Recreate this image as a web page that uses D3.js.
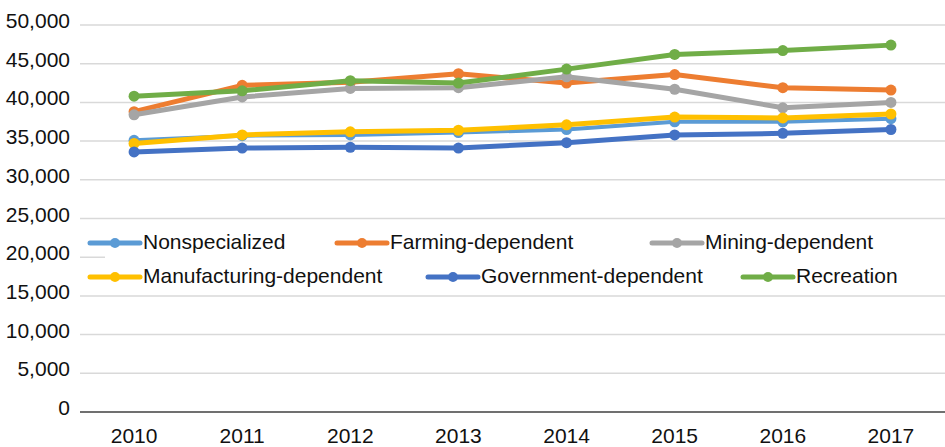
<!DOCTYPE html>
<html lang="en">
<head>
<meta charset="utf-8">
<title>Line chart</title>
<script src="https://cdn.jsdelivr.net/npm/d3@7"></script>
<style>
  body { margin: 0; background: #fff; }
  text { font-family: "Liberation Sans", Arial, Helvetica, sans-serif; fill: #111; }
</style>
</head>
<body>
<svg id="chart" width="945" height="447"></svg>
<script>
// data
var years = ["2010", "2011", "2012", "2013", "2014", "2015", "2016", "2017"];
var seriesNames = ["Nonspecialized", "Farming-dependent", "Mining-dependent",
  "Manufacturing-dependent", "Government-dependent", "Recreation"];
var nonspecialized = [35100, 35700, 35800, 36100, 36500, 37500, 37500, 37900];
var farming        = [38800, 42200, 42600, 43700, 42500, 43600, 41900, 41600];
var mining         = [38400, 40700, 41800, 41900, 43300, 41700, 39300, 40000];
var manufacturing  = [34700, 35800, 36200, 36400, 37100, 38100, 38000, 38500];
var government     = [33600, 34100, 34200, 34100, 34800, 35800, 36000, 36500];
var recreation     = [40800, 41500, 42800, 42500, 44300, 46200, 46700, 47400];
var yTicks = [0, 5000, 10000, 15000, 20000, 25000, 30000, 35000, 40000, 45000, 50000];

var allSeries = [nonspecialized, farming, mining, manufacturing, government, recreation];
var colors = ["#5B9BD5", "#ED7D31", "#A5A5A5", "#FFC000", "#4472C4", "#70AD47"];

var svg = d3.select("#chart");

var x = d3.scaleBand().domain(years).range([80, 945]);
var y = d3.scaleLinear().domain([0, 50000]).range([412, 25]);
var cx = function (yr) { return x(yr) + x.bandwidth() / 2; };

// gridlines
svg.append("g").selectAll("line")
  .data(yTicks.filter(function (t) { return t > 0; }))
  .enter().append("line")
  .attr("x1", 80).attr("x2", 945)
  .attr("y1", function (d) { return y(d); })
  .attr("y2", function (d) { return y(d); })
  .attr("stroke", "#d9d9d9").attr("stroke-width", 1.5);

// y labels
var fmt = d3.format(",");
svg.append("g").selectAll("text")
  .data(yTicks)
  .enter().append("text")
  .attr("x", 70)
  .attr("y", function (d) { return y(d) + 3; })
  .attr("text-anchor", "end")
  .style("font-size", "21px")
  .text(function (d) { return fmt(d); });

// zero axis line
svg.append("line")
  .attr("x1", 80).attr("x2", 945)
  .attr("y1", y(0)).attr("y2", y(0))
  .attr("stroke", "#404040").attr("stroke-width", 1.5);

// x labels
svg.append("g").selectAll("text")
  .data(years)
  .enter().append("text")
  .attr("x", function (d) { return cx(d); })
  .attr("y", 443)
  .attr("text-anchor", "middle")
  .style("font-size", "21px")
  .text(function (d) { return d; });

// legend box sits over the plot
svg.append("rect")
  .attr("x", 105).attr("y", 226)
  .attr("width", 840).attr("height", 66)
  .attr("fill", "#fff");

// lines + markers
var line = d3.line()
  .x(function (d, i) { return cx(years[i]); })
  .y(function (d) { return y(d); });

allSeries.forEach(function (vals, k) {
  var g = svg.append("g");
  g.append("path")
    .attr("d", line(vals))
    .attr("fill", "none")
    .attr("stroke", colors[k])
    .attr("stroke-width", k === 0 ? 4 : 5)
    .attr("stroke-linejoin", "round");
  g.selectAll("circle")
    .data(vals)
    .enter().append("circle")
    .attr("cx", function (d, i) { return cx(years[i]); })
    .attr("cy", function (d) { return y(d); })
    .attr("r", 5.5)
    .attr("fill", colors[k]);
});

// legend
var legendX = [90, 337, 652, 90, 428, 743];
var legendY = [243, 243, 243, 277, 277, 277];
seriesNames.forEach(function (name, k) {
  var g = svg.append("g").attr("transform", "translate(" + legendX[k] + "," + legendY[k] + ")");
  g.append("line")
    .attr("x1", 0).attr("x2", 50)
    .attr("stroke", colors[k]).attr("stroke-width", 5)
    .attr("stroke-linecap", "round");
  g.append("circle").attr("cx", 25).attr("r", 5).attr("fill", colors[k]);
  g.append("text")
    .attr("x", 53).attr("y", 6)
    .style("font-size", "21px")
    .text(name);
});
</script>
</body>
</html>
